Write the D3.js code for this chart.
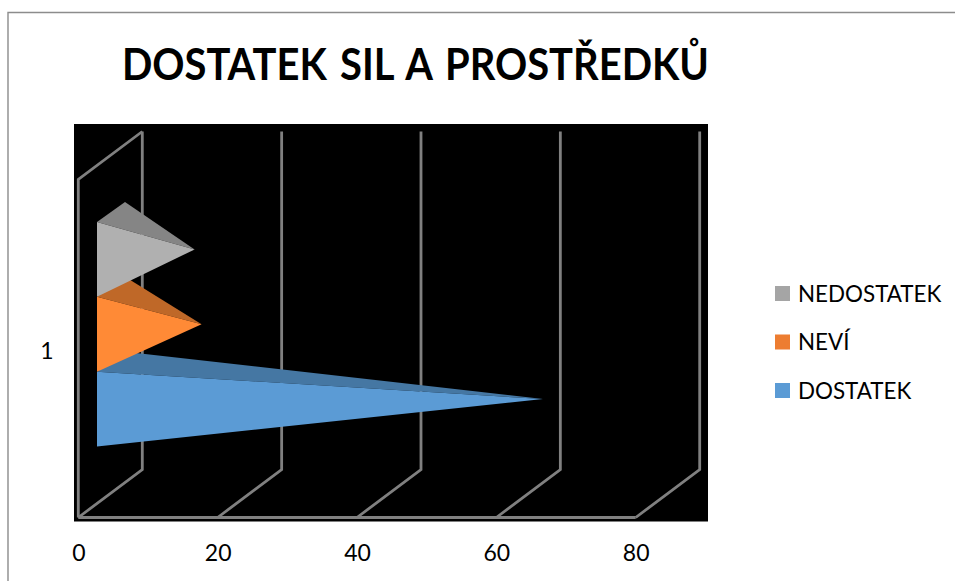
<!DOCTYPE html>
<html>
<head>
<meta charset="utf-8">
<script src="https://cdn.jsdelivr.net/npm/d3@7"></script>
<style>
  html, body { margin: 0; padding: 0; background: #fff; }
  svg { display: block; }
  text { font-family: Lato, "Noto Sans", sans-serif; fill: #000; }
</style>
</head>
<body>
<div id="chart"></div>
<script>
// data
var title = 'DOSTATEK SIL A PROSTŘEDKŮ';
var category = '1';
var seriesNames = ['NEDOSTATEK', 'NEVÍ', 'DOSTATEK'];
var seriesValues = [12, 13, 62];
var xTicks = [0, 20, 40, 60, 80];
var frontColors = ['#b0b0b0', '#ff8a36', '#5b9bd5'];
var backColors = ['#858585', '#bf6828', '#4577a3'];
var legendColors = ['#a5a5a5', '#ed7d31', '#5b9bd5'];

var width = 955;
var height = 581;

// floor and wall of the 3D box
var floorY = 517.5;
var topY = 179.5;
var depthX = 64;
var depthY = -48;
var gridColor = '#808080';

var x = d3.scaleLinear().domain([0, 80]).range([78.3, 635.7]);
var band = d3.scaleBand().domain(seriesNames).range([222, 446.5]);

// pyramid base: set back in the box, and its own depth
var baseLeft = 97;
var baseDepthX = 28;
var baseDepthY = -20;

var svg = d3.select('#chart').append('svg')
  .attr('width', width).attr('height', height);

// outer frame (top and left only, the rest is cut off)
svg.append('path')
  .attr('d', 'M8,' + height + 'V12.5H' + width)
  .attr('fill', 'none')
  .attr('stroke', '#8c8c8c')
  .attr('stroke-width', 1.4);

// plot background
svg.append('rect')
  .attr('x', 74).attr('y', 124)
  .attr('width', 634).attr('height', 397.5)
  .attr('fill', '#000');

// grid lines
var gridG = svg.append('g')
  .attr('fill', 'none')
  .attr('stroke', gridColor)
  .attr('stroke-width', 2.8);

gridG.selectAll('path.grid').data(xTicks).enter()
  .append('path')
  .attr('class', 'grid')
  .attr('d', function(d) {
    return 'M' + x(d) + ',' + floorY +
      'L' + (x(d) + depthX) + ',' + (floorY + depthY) +
      'V' + (topY + depthY);
  });

// left wall and floor edge
gridG.append('path')
  .attr('d', 'M' + x(0) + ',' + floorY + 'V' + topY +
    'L' + (x(0) + depthX) + ',' + (topY + depthY));
gridG.append('path')
  .attr('d', 'M' + x(0) + ',' + floorY + 'H' + x(80));

// pyramids, drawn from the bottom up so the upper one covers the lower one
var barData = seriesNames.map(function(name, i) {
  return {name: name, value: seriesValues[i], front: frontColors[i], back: backColors[i]};
}).reverse();

var line = d3.line();
var bars = svg.selectAll('g.bar').data(barData).enter()
  .append('g')
  .attr('class', 'bar');

function apex(d) {
  var shift = baseLeft - x(0) + baseDepthX / 2;
  return [x(d.value) + shift, band(d.name) + band.bandwidth() / 2 + baseDepthY / 2];
}

// top face
bars.append('path')
  .attr('fill', function(d) { return d.back; })
  .attr('d', function(d) {
    var y0 = band(d.name);
    return line([[baseLeft, y0], [baseLeft + baseDepthX, y0 + baseDepthY], apex(d)]) + 'Z';
  });

// front face
bars.append('path')
  .attr('fill', function(d) { return d.front; })
  .attr('d', function(d) {
    var y0 = band(d.name);
    return line([[baseLeft, y0], apex(d), [baseLeft, y0 + band.bandwidth()]]) + 'Z';
  });

// x axis labels
var xAxis = d3.axisBottom(x).tickValues(xTicks).tickSize(0).tickPadding(0);
var axisG = svg.append('g')
  .attr('transform', 'translate(0,545)')
  .call(xAxis);
axisG.select('.domain').remove();
axisG.selectAll('text')
  .attr('font-size', 23)
  .style('font-family', 'Lato, "Noto Sans", sans-serif');

// category label
svg.append('text')
  .attr('x', 47).attr('y', 359)
  .attr('text-anchor', 'middle')
  .attr('font-size', 23)
  .text(category);

// title
svg.append('text')
  .attr('x', 122).attr('y', 80)
  .attr('font-size', 44)
  .attr('font-weight', 700)
  .attr('word-spacing', 4)
  .attr('textLength', 587)
  .attr('lengthAdjust', 'spacingAndGlyphs')
  .text(title);

// legend
var legendY = d3.scalePoint().domain(seriesNames).range([293.5, 390.5]);
var legend = svg.selectAll('g.legend').data(seriesNames).enter()
  .append('g')
  .attr('class', 'legend')
  .attr('transform', function(d) { return 'translate(775,' + legendY(d) + ')'; });

legend.append('rect')
  .attr('y', -7.5)
  .attr('width', 15).attr('height', 15)
  .attr('fill', function(d, i) { return legendColors[i]; });

legend.append('text')
  .attr('x', 23).attr('y', 8)
  .attr('font-size', 22.4)
  .text(function(d) { return d; });
</script>
</body>
</html>
